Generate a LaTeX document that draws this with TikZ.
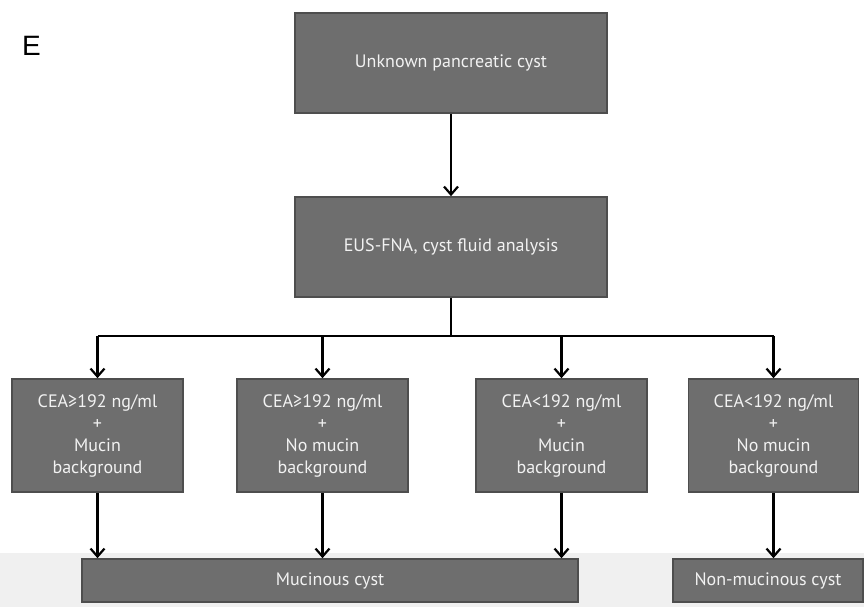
\documentclass[tikz,border=0pt]{standalone}
\usepackage{fontspec}
\setmainfont{PT Sans}
\newfontfamily\labelfont{Liberation Sans}
\usetikzlibrary{arrows.meta}
\definecolor{boxfill}{HTML}{6E6E6E}
\definecolor{boxline}{HTML}{4E4E4E}
\definecolor{boxtext}{HTML}{F2F2F2}
\definecolor{band}{HTML}{F0F0F0}
\tikzset{
  flowbox/.style={draw=boxline, line width=1.6pt, fill=boxfill, text=boxtext,
    font=\fontsize{18}{22}\selectfont, align=center, inner sep=0pt},
  conn/.style={line width=2.2pt, draw=black},
  arr/.style={conn, -{Straight Barb[length=8pt,width=14pt,line width=2.2pt]}}
}
\begin{document}
\begin{tikzpicture}[x=1pt,y=-1pt]
\useasboundingbox (0,0) rectangle (864,607);
\fill[band] (0,553) rectangle (864,607);
\node[font=\labelfont\fontsize{28}{28}\selectfont, anchor=base west, inner sep=0pt] (lab) at (22,56) {E};
\node[flowbox, minimum width=312pt, minimum height=100pt] (top) at (451,63) {Unknown pancreatic cyst};
\node[flowbox, minimum width=312pt, minimum height=100pt] (eus) at (451,247) {EUS-FNA, cyst fluid analysis};
\node[flowbox, minimum width=171pt, minimum height=113pt] (b1) at (97.5,435.5) {CEA≥192 ng/ml\\+\\Mucin\\background};
\node[flowbox, minimum width=171pt, minimum height=113pt] (b2) at (322.5,435.5) {CEA≥192 ng/ml\\+\\No mucin\\background};
\node[flowbox, minimum width=171pt, minimum height=113pt] (b3) at (561.5,435.5) {CEA<192 ng/ml\\+\\Mucin\\background};
\node[flowbox, minimum width=170pt, minimum height=113pt] (b4) at (773.5,435.5) {CEA<192 ng/ml\\+\\No mucin\\background};
\node[flowbox, minimum width=496pt, minimum height=43pt] (muc) at (330,580.5) {Mucinous cyst};
\node[flowbox, minimum width=190pt, minimum height=43pt] (non) at (768,580.5) {Non-mucinous cyst};
\coordinate (split) at (eus.south |- 0,336);
\draw[arr] (top.south) -- (eus.north);
\draw[conn] (eus.south) -- (split);
\draw[conn] (b1.north |- split) -- (b4.north |- split);
\draw[arr] (b1.north |- split) -- (b1.north);
\draw[arr] (b2.north |- split) -- (b2.north);
\draw[arr] (b3.north |- split) -- (b3.north);
\draw[arr] (b4.north |- split) -- (b4.north);
\draw[arr] (b1.south) -- (b1.south |- muc.north);
\draw[arr] (b2.south) -- (b2.south |- muc.north);
\draw[arr] (b3.south) -- (b3.south |- muc.north);
\draw[arr] (b4.south) -- (b4.south |- non.north);
\end{tikzpicture}
\end{document}
